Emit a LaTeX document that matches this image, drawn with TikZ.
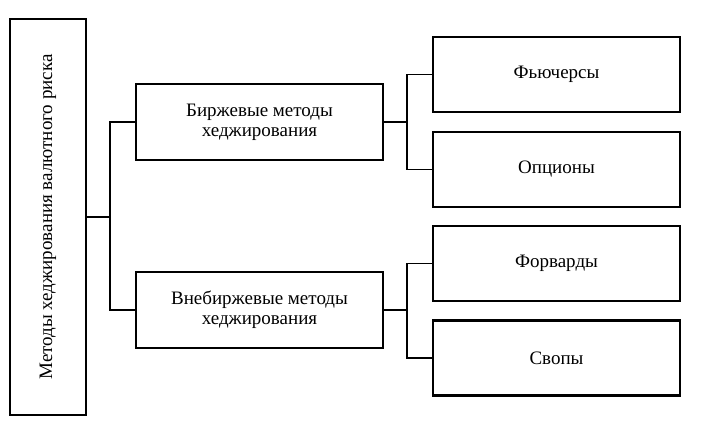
\documentclass[tikz,border=0pt]{standalone}
\usepackage{fontspec}
\setmainfont{Liberation Serif}
\usetikzlibrary{positioning}

\begin{document}
\begin{tikzpicture}[
          x=1pt, y=-1pt,
          font=\fontsize{19}{20}\selectfont,
          box/.style={draw, line width=2.4pt, align=center, inner sep=0pt},
          midbox/.style={box, minimum width=247pt, minimum height=76pt},
          leafbox/.style={box, minimum width=247pt, minimum height=75pt},
          link/.style={line width=1.6pt}
        ]
          \useasboundingbox (0,0) rectangle (710,425);
          % root
          \node[box, minimum width=76pt, minimum height=396pt] (root) at (48,217)
            {\rotatebox{90}{Методы хеджирования валютного риска}};
          % methods
          \node[midbox] (exch) at (259.5,122) {Биржевые методы\\хеджирования};
          \node[midbox] (otc) at (259.5,310) {Внебиржевые методы\\хеджирования};
          % instruments
          \node[leafbox] (futures) at (556.5,74.5) {Фьючерсы};
          \node[leafbox] (options) at (556.5,169.5) {Опционы};
          \node[leafbox] (forwards) at (556.5,263.5) {Форварды};
          \node[leafbox] (swaps) at (556.5,358) {Свопы};
          % forks
          \coordinate (rootfork) at (110,217);
          \coordinate (exchfork) at (407,122);
          \coordinate (otcfork) at (407,310);
          \draw[link] (root.east) -- (rootfork);
          \draw[link] (exch.west) -| (rootfork) |- (otc.west);
          \draw[link] (exch.east) -- (exchfork);
          \draw[link] (futures.west) -| (exchfork) |- (options.west);
          \draw[link] (otc.east) -- (otcfork);
          \draw[link] (forwards.west) -| (otcfork) |- (swaps.west);
        \end{tikzpicture}
\end{document}
